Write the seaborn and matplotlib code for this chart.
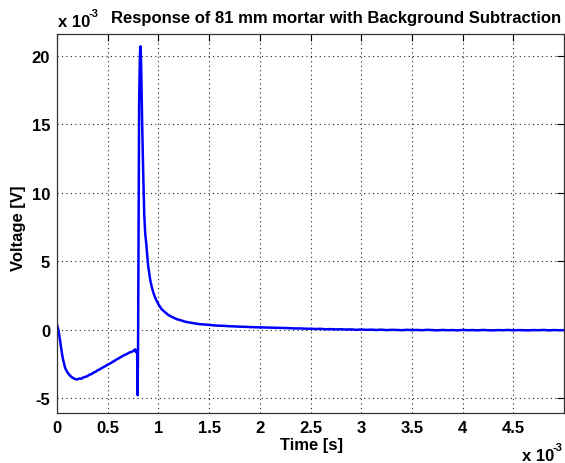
import matplotlib
matplotlib.use("Agg")
import matplotlib.pyplot as plt
import seaborn as sns
import pandas as pd

# Time in units of 1e-3 s, voltage in units of 1e-3 V
time_ms = [
    0.000, 0.010, 0.020, 0.030, 0.040, 0.050, 0.060, 0.070, 0.080, 0.100,
    0.120, 0.140, 0.160, 0.180, 0.200, 0.220, 0.240, 0.260, 0.280, 0.300,
    0.320, 0.340, 0.360, 0.380, 0.400, 0.420, 0.440, 0.460, 0.480, 0.500,
    0.520, 0.540, 0.560, 0.580, 0.600, 0.620, 0.640, 0.660, 0.680, 0.700,
    0.720, 0.740, 0.760, 0.770, 0.780, 0.790, 0.795, 0.800, 0.805, 0.810,
    0.815, 0.820, 0.825, 0.830, 0.835, 0.840, 0.850, 0.860, 0.870, 0.880,
    0.890, 0.900, 0.910, 0.920, 0.935, 0.950, 0.970, 1.000, 1.030, 1.060,
    1.100, 1.140, 1.180, 1.220, 1.260, 1.300, 1.350, 1.400, 1.450, 1.500,
    1.550, 1.600, 1.650, 1.700, 1.750, 1.800, 1.850, 1.900, 1.950, 2.000,
    2.050, 2.100, 2.150, 2.200, 2.250, 2.300, 2.350, 2.400, 2.450, 2.500,
    2.550, 2.600, 2.650, 2.700, 2.750, 2.800, 2.850, 2.900, 2.950, 3.000,
    3.050, 3.100, 3.150, 3.200, 3.250, 3.300, 3.350, 3.400, 3.450, 3.500,
    3.550, 3.600, 3.650, 3.700, 3.750, 3.800, 3.850, 3.900, 3.950, 4.000,
    4.050, 4.100, 4.150, 4.200, 4.250, 4.300, 4.350, 4.400, 4.450, 4.500,
    4.550, 4.600, 4.650, 4.700, 4.750, 4.800, 4.850, 4.900, 4.950, 5.000,
]
voltage_mv = [
    0.35, 0.10, -0.30, -0.80, -1.30, -1.80, -2.20, -2.50, -2.80, -3.10,
    -3.30, -3.45, -3.55, -3.62, -3.65, -3.58, -3.60, -3.50, -3.46, -3.40,
    -3.30, -3.26, -3.15, -3.09, -2.98, -2.92, -2.82, -2.74, -2.66, -2.56,
    -2.50, -2.40, -2.32, -2.22, -2.14, -2.05, -1.97, -1.88, -1.82, -1.74,
    -1.66, -1.62, -1.52, -1.45, -1.65, -1.55, -4.80, -0.50, 8.00, 16.60,
    19.00, 20.60, 20.70, 19.20, 17.00, 15.00, 11.50, 8.50, 7.00, 6.30,
    5.40, 4.60, 4.10, 3.60, 3.10, 2.70, 2.30, 1.85, 1.50, 1.30,
    1.05, 0.90, 0.76, 0.68, 0.58, 0.52, 0.46, 0.40, 0.37, 0.34,
    0.30, 0.28, 0.27, 0.24, 0.23, 0.21, 0.20, 0.18, 0.17, 0.16,
    0.15, 0.14, 0.13, 0.12, 0.11, 0.10, 0.08, 0.08, 0.06, 0.06,
    0.04, 0.05, 0.02, 0.03, 0.01, 0.02, 0.00, 0.01, -0.02, 0.00,
    -0.02, -0.01, -0.03, -0.01, -0.04, -0.02, -0.03, -0.05, -0.02, -0.04,
    -0.03, -0.05, -0.02, -0.04, -0.06, -0.03, -0.05, -0.04, -0.06, -0.03,
    -0.05, -0.04, -0.06, -0.03, -0.05, -0.06, -0.04, -0.05, -0.03, -0.06,
    -0.04, -0.05, -0.06, -0.04, -0.05, -0.03, -0.06, -0.04, -0.05, -0.05,
]

x_ticks = [0, 0.5, 1, 1.5, 2, 2.5, 3, 3.5, 4, 4.5, 5]
x_tick_labels = ["0", "0.5", "1", "1.5", "2", "2.5", "3", "3.5", "4", "4.5", ""]
y_ticks = [-5, 0, 5, 10, 15, 20]
y_tick_labels = ["-5", "0", "5", "10", "15", "20"]

title_text = "Response of 81 mm mortar with Background Subtraction"
x_label = "Time [s]"
y_label = "Voltage [V]"
mult_base = "x 10"
mult_exp = "-3"

sns.set_style("white")
plt.rcParams["font.family"] = ["Liberation Sans", "DejaVu Sans"]
plt.rcParams["font.weight"] = "bold"
plt.rcParams["text.color"] = "black"
plt.rcParams["xtick.color"] = "black"
plt.rcParams["ytick.color"] = "black"

W, H = 565, 464
fig = plt.figure(figsize=(W / 100, H / 100), dpi=100)
ax = fig.add_axes([57 / W, 1 - 414 / H, (564 - 57) / W, (414 - 35) / H])

df = pd.DataFrame({"t": time_ms, "v": voltage_mv})
sns.lineplot(data=df, x="t", y="v", ax=ax, color="#0000ff", linewidth=1.8,
             sort=False, estimator=None)

ax.set_xlim(0, 5)
ax.set_ylim(-6.1, 21.6)
ax.set_xticks(x_ticks)
ax.set_xticklabels(x_tick_labels)
ax.set_yticks(y_ticks)
ax.set_yticklabels(y_tick_labels)
ax.set_xlabel("")
ax.set_ylabel("")

ax.grid(True, color="#222222", linestyle=(0, (1, 3)), linewidth=0.8)
ax.tick_params(direction="in", length=5, width=0.8, top=True, right=True,
               labelsize=12, pad=5, labelcolor="black")
for s in ax.spines.values():
    s.set_visible(True)
    s.set_color("#333333")
    s.set_linewidth(0.9)

fs = 12
fig.text(336 / W, 1 - 19 / H, title_text, ha="center", va="center",
         fontsize=fs, fontweight="bold")
fig.text(311 / W, 1 - 446 / H, x_label, ha="center", va="center",
         fontsize=fs, fontweight="bold")
fig.text(19 / W, 1 - 228 / H, y_label, ha="center", va="center",
         rotation=90, fontsize=fs, fontweight="bold")
# top-left multiplier
fig.text(58 / W, 1 - 27 / H, mult_base, ha="left", va="baseline",
         fontsize=fs, fontweight="bold")
fig.text(89 / W, 1 - 17 / H, mult_exp, ha="left", va="baseline",
         fontsize=8, fontweight="bold")
# bottom-right multiplier
fig.text(522 / W, 1 - 461 / H, mult_base, ha="left", va="baseline",
         fontsize=fs, fontweight="bold")
fig.text(553 / W, 1 - 451 / H, mult_exp, ha="left", va="baseline",
         fontsize=8, fontweight="bold")

fig.savefig("out.png", dpi=100)
